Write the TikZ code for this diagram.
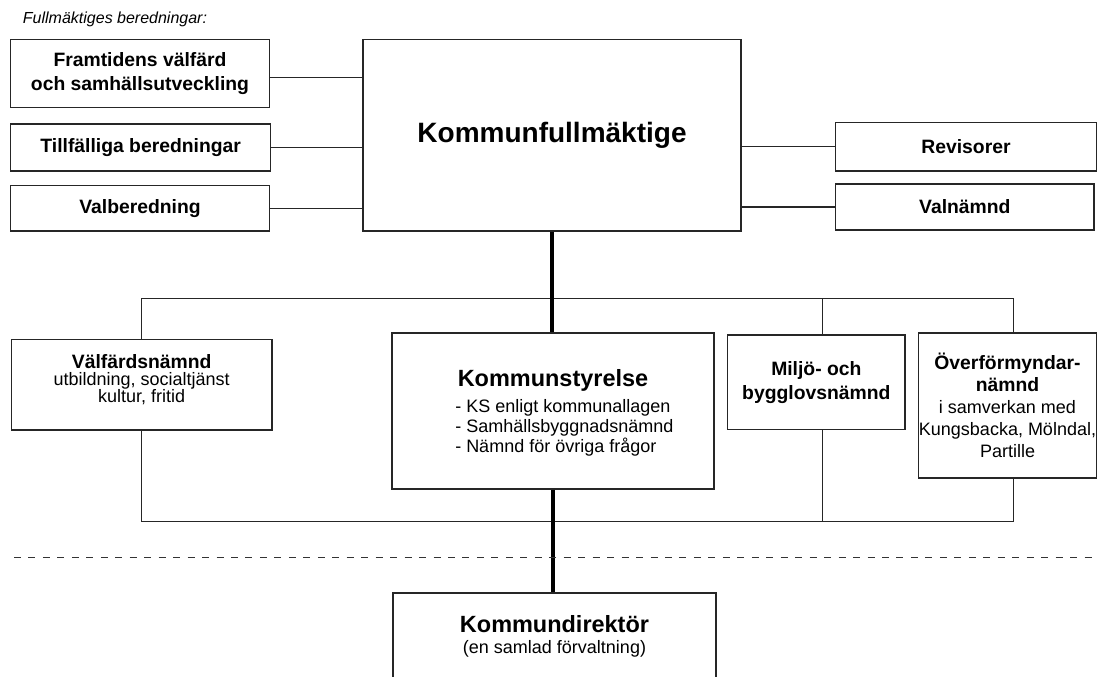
\documentclass[tikz,border=0pt]{standalone}
\usepackage{fontspec}
\setmainfont{Liberation Sans}
\usepackage{tikz}
\usetikzlibrary{calc}
\tikzset{x=0.75pt, y=-0.75pt,
  org box/.style={draw=black!85, line width=1.1pt, fill=white, inner sep=0pt, align=center},
  top label/.style={font=\fontsize{14.5}{18}\selectfont\bfseries},
  mid label/.style={font=\fontsize{13.5}{12.75}\selectfont},
  big label/.style={font=\fontsize{21}{24}\selectfont\bfseries},
  org line/.style={draw=black!85, line width=1.1pt},
  main line/.style={draw=black, line width=3pt},
  split line/.style={draw=black!80, line width=1.1pt, dash pattern=on 5.25pt off 5.6pt}
}
\def\boxhead{\fontsize{14.5}{12.75}\selectfont\bfseries}
\def\OrgBox#1#2#3#4#5#6#7{%
 \node[org box, #6, minimum width={(#4-#2)*0.75pt}, minimum height={(#5-#3)*0.75pt}]
   (#1) at ({(#2+#4)/2},{(#3+#5)/2}) {#7};
}

\begin{document}
\begin{tikzpicture}
\useasboundingbox (0,0) rectangle (1099,677);
\node[anchor=base west, inner sep=0pt, font=\fontsize{12}{14}\selectfont\itshape] (head) at (22.7,24) {Fullmäktiges beredningar:};
\OrgBox{fv}{10.7}{39.3}{269.3}{107.7}{top label}{Framtidens välfärd\\och samhällsutveckling}
\OrgBox{tb}{10.7}{124}{270.7}{171}{top label}{Tillfälliga beredningar}
\OrgBox{vb}{10.7}{185.7}{269.3}{231}{top label}{Valberedning}
\OrgBox{kf}{363}{39.3}{741}{231}{big label}{Kommunfullmäktige}
\OrgBox{rev}{835.3}{122.3}{1096.7}{171}{top label}{Revisorer}
\OrgBox{valn}{835.7}{184}{1094}{230}{top label}{Valnämnd}
\OrgBox{vfn}{11.4}{339.3}{272}{430}{}{}
\OrgBox{ks}{392}{333}{714}{489}{}{}
\OrgBox{mb}{727.7}{335}{905}{429.3}{top label}{Miljö- och\\bygglovsnämnd}
\OrgBox{ofn}{918.3}{333}{1096.7}{478}{font=\fontsize{13.5}{16.5}\selectfont}{{\boxhead Överförmyndar-}\\{\boxhead nämnd}\\i samverkan med\\Kungsbacka, Mölndal,\\Partille}
\OrgBox{kd}{393}{593}{716}{730}{}{}
\node[mid label, align=center, inner sep=0pt] (vfn-t) at ([yshift=3.5pt]vfn.center) {{\boxhead Välfärdsnämnd}\\utbildning, socialtjänst\\kultur, fritid};
\node[anchor=base, font=\fontsize{17.6}{20}\selectfont\bfseries] (ks-t) at (553,386.7) {Kommunstyrelse};
\node[anchor=north west, inner sep=0pt, align=left, font=\fontsize{13.5}{15}\selectfont] (ks-l) at (455,399) {- KS enligt kommunallagen\\- Samhällsbyggnadsnämnd\\- Nämnd för övriga frågor};
\node[anchor=north, inner sep=0pt, align=center, font=\fontsize{13.5}{15.75}\selectfont] (kd-t) at (554.5,614.8) {{\fontsize{17.6}{15.75}\selectfont\bfseries Kommundirektör}\\(en samlad förvaltning)};

\draw[org line] ([yshift=-3pt]fv.east) -- ([yshift=-3pt]fv.east -| kf.west);
\draw[org line] (tb.east) -- (tb.east -| kf.west);
\draw[org line] (vb.east) -- (vb.east -| kf.west);
\draw[org line] (rev.west) -- (rev.west -| kf.east);
\draw[org line] (valn.west) -- (valn.west -| kf.east);

\coordinate (bus top) at (0,298.3);
\coordinate (bus low) at (0,521.7);
\coordinate (mb-top) at ([xshift=4.5pt]mb.north);
\coordinate (mb-bot) at ([xshift=4.5pt]mb.south);
\coordinate (ofn-top) at ([xshift=4.5pt]ofn.north);
\coordinate (ofn-bot) at ([xshift=4.5pt]ofn.south);
\draw[org line] (vfn.north) -- (vfn.north |- bus top) -- (ofn-top |- bus top) -- (ofn-top);
\draw[org line] (mb-top) -- (mb-top |- bus top);
\draw[org line] (vfn.south) -- (vfn.south |- bus low) -- (ofn-bot |- bus low) -- (ofn-bot);
\draw[org line] (mb-bot) -- (mb-bot |- bus low);
\draw[main line] (kf.south) -- (kf.south |- ks.north);
\draw[main line] (ks.south) -- (ks.south |- kd.north);

\coordinate (cut l) at (14,557.7);
\coordinate (cut r) at (1099,557.7);
\draw[split line] (cut l) -- (cut r);
\end{tikzpicture}
\end{document}
